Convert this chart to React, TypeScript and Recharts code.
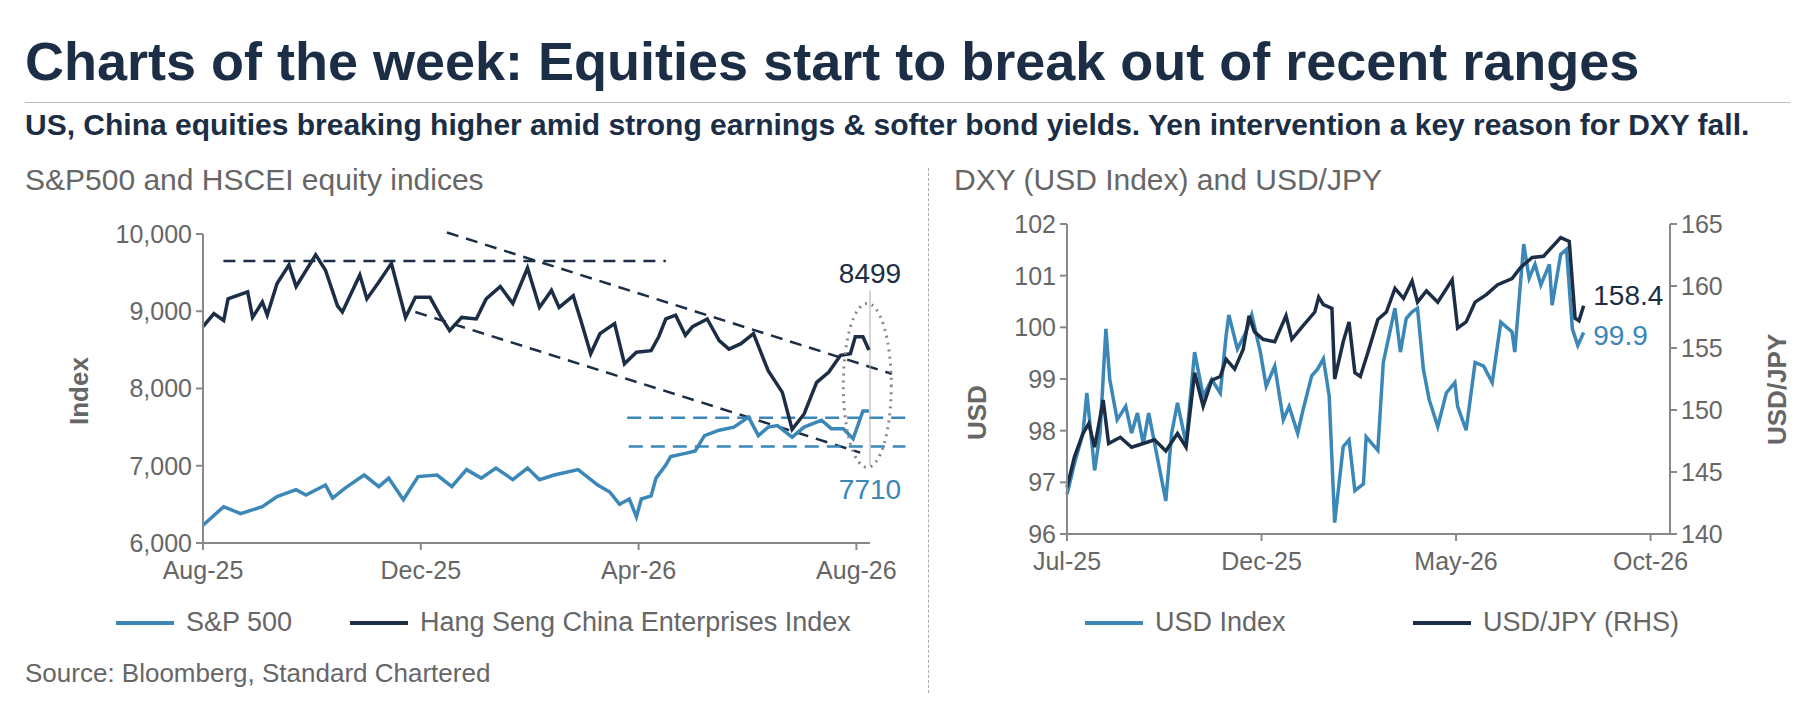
import React from 'react';
import { LineChart, Line, XAxis, YAxis, ReferenceLine, ReferenceDot } from 'recharts';

const NAVY = '#1c2e45';
const BLUE = '#3a87b8';
const GREY = '#666';
const FONT = '"Liberation Sans", Arial, sans-serif';

// left chart: months since Aug-25
const hsceiMonths = [0, 0.2, 0.38, 0.46, 0.82, 0.91, 1.09, 1.18, 1.36, 1.58, 1.71, 2.07, 2.25, 2.47, 2.56, 2.88, 3.01, 3.23, 3.46, 3.72, 3.9, 4.17, 4.35, 4.53, 4.75, 5.02, 5.2, 5.46, 5.69, 5.96, 6.18, 6.4, 6.54, 6.8, 6.94, 7.12, 7.29, 7.56, 7.74, 7.96, 8.23, 8.37, 8.5, 8.68, 8.86, 8.99, 9.26, 9.48, 9.66, 9.88, 10.11, 10.38, 10.64, 10.82, 11.04, 11.27, 11.49, 11.71, 11.89, 11.98, 12.12, 12.23];
const hsceiValues = [8800, 8970, 8880, 9160, 9250, 8920, 9120, 8950, 9360, 9600, 9320, 9730, 9530, 9070, 8990, 9470, 9160, 9380, 9620, 8920, 9180, 9180, 8950, 8750, 8920, 8900, 9160, 9320, 9100, 9560, 9050, 9270, 9050, 9200, 8880, 8450, 8710, 8840, 8320, 8470, 8490, 8670, 8900, 8950, 8690, 8800, 8900, 8620, 8510, 8580, 8710, 8230, 7950, 7470, 7670, 8080, 8210, 8430, 8450, 8670, 8670, 8499];
const spxMonths = [0, 0.38, 0.69, 1.09, 1.36, 1.71, 1.89, 2.25, 2.38, 2.61, 2.96, 3.23, 3.41, 3.68, 3.95, 4.3, 4.57, 4.84, 5.11, 5.38, 5.69, 5.96, 6.18, 6.45, 6.89, 7.25, 7.47, 7.65, 7.83, 7.96, 8.05, 8.23, 8.32, 8.5, 8.59, 8.86, 9.04, 9.21, 9.48, 9.75, 10.02, 10.2, 10.38, 10.55, 10.82, 11.04, 11.36, 11.54, 11.76, 11.94, 12.12, 12.23];
const spxValues = [6230, 6470, 6380, 6470, 6600, 6690, 6620, 6750, 6580, 6710, 6880, 6730, 6840, 6560, 6860, 6880, 6730, 6950, 6840, 6970, 6820, 6970, 6820, 6880, 6950, 6750, 6660, 6500, 6570, 6340, 6570, 6610, 6840, 7010, 7120, 7160, 7190, 7390, 7460, 7500, 7630, 7390, 7500, 7520, 7370, 7500, 7590, 7480, 7480, 7350, 7710, 7710];
const leftTicks = [0, 4, 8, 12];
const leftTickLabels = ['Aug-25', 'Dec-25', 'Apr-26', 'Aug-26'];
const indexTicks = [6000, 7000, 8000, 9000, 10000];

// right chart: months since Jul-25
const dxyMonths = [0, 0.19, 0.41, 0.51, 0.71, 0.85, 1.0, 1.1, 1.29, 1.51, 1.66, 1.81, 1.96, 2.1, 2.32, 2.54, 2.69, 2.84, 3.06, 3.28, 3.5, 3.72, 3.94, 4.09, 4.16, 4.38, 4.6, 4.75, 4.97, 5.12, 5.34, 5.56, 5.71, 5.93, 6.07, 6.29, 6.44, 6.59, 6.74, 6.88, 7.1, 7.25, 7.4, 7.62, 7.69, 7.99, 8.13, 8.43, 8.57, 8.72, 8.87, 9.01, 9.16, 9.31, 9.53, 9.75, 9.97, 10.04, 10.26, 10.49, 10.71, 10.93, 11.15, 11.44, 11.51, 11.74, 11.88, 12.03, 12.18, 12.4, 12.47, 12.69, 12.84, 12.99, 13.13, 13.28];
const dxyValues = [96.77, 97.36, 97.95, 98.73, 97.23, 97.95, 99.97, 98.99, 98.21, 98.47, 97.95, 98.34, 97.75, 98.34, 97.49, 96.64, 97.95, 98.54, 97.75, 99.52, 98.67, 98.99, 98.73, 99.84, 100.24, 99.58, 99.91, 100.24, 99.52, 98.86, 99.25, 98.21, 98.47, 97.95, 98.41, 99.06, 99.19, 99.39, 98.67, 96.22, 97.69, 97.82, 96.84, 96.97, 97.88, 97.62, 99.32, 100.37, 99.52, 100.17, 100.3, 100.37, 99.19, 98.6, 98.08, 98.73, 98.93, 98.47, 98.01, 99.32, 99.25, 98.93, 100.1, 99.91, 99.52, 101.61, 100.95, 101.22, 100.82, 101.22, 100.43, 101.41, 101.51, 99.97, 99.65, 99.9];
const jpyMonths = [0, 0.19, 0.41, 0.56, 0.71, 0.93, 1.07, 1.37, 1.66, 1.96, 2.25, 2.54, 2.84, 3.06, 3.28, 3.5, 3.72, 3.94, 4.09, 4.31, 4.53, 4.68, 4.82, 5.04, 5.34, 5.63, 5.78, 6.07, 6.37, 6.47, 6.59, 6.81, 6.88, 7.1, 7.25, 7.4, 7.54, 7.76, 7.99, 8.21, 8.43, 8.65, 8.87, 9.01, 9.24, 9.53, 9.9, 10.04, 10.26, 10.49, 10.78, 11.07, 11.44, 11.66, 11.96, 12.25, 12.69, 12.91, 13.06, 13.16, 13.28];
const jpyValues = [143.75, 146.2, 148.1, 148.9, 147.0, 150.8, 147.3, 147.8, 147.0, 147.3, 147.6, 146.7, 148.1, 147.0, 153.0, 150.3, 152.4, 152.7, 154.1, 153.3, 154.9, 157.6, 156.3, 155.7, 155.5, 157.6, 155.7, 156.8, 157.9, 159.1, 158.5, 158.2, 152.5, 155.5, 157.1, 153.0, 152.7, 154.9, 157.3, 157.9, 159.8, 159.0, 160.4, 158.7, 159.6, 158.7, 160.5, 156.6, 157.1, 158.7, 159.3, 160.1, 160.6, 161.5, 162.3, 162.4, 163.9, 163.6, 157.4, 157.2, 158.4];
const rightTicks = [0, 5, 10, 15];
const rightTickLabels = ['Jul-25', 'Dec-25', 'May-26', 'Oct-26'];
const usdTicks = [96, 97, 98, 99, 100, 101, 102];
const jpyTicks = [140, 145, 150, 155, 160, 165];

const zip = (xs: number[], ys: number[]) => xs.map((m, i) => ({ m, v: ys[i] }));
const hsceiData = zip(hsceiMonths, hsceiValues);
const spxData = zip(spxMonths, spxValues);
const dxyData = zip(dxyMonths, dxyValues);
const jpyData = zip(jpyMonths, jpyValues);

const tick = { fill: GREY, fontSize: 25, fontFamily: FONT };
const axisLine = { stroke: '#888', strokeWidth: 2 };

const Ellipse = (props: any) => (
  <ellipse cx={props.cx} cy={props.cy} rx={24} ry={82} fill="none" stroke="#888" strokeWidth={3} strokeDasharray="2 5" />
);

const abs = (left: number, top: number, extra: React.CSSProperties = {}): React.CSSProperties => ({
  position: 'absolute', left, top, fontFamily: FONT, whiteSpace: 'nowrap', ...extra,
});

const LegendItem = ({ x, color, text }: { x: number; color: string; text: string }) => (
  <div style={abs(x, 607, { display: 'flex', alignItems: 'center', fontSize: 27, color: GREY })}>
    <span style={{ display: 'inline-block', width: 58, height: 4, background: color, marginRight: 12 }} />
    {text}
  </div>
);

const valueLabel = (value: string, fill: string, position: any) =>
  ({ value, position, fill, fontSize: 28, fontFamily: FONT });

export default function App() {
  return (
    <div style={{ position: 'absolute', left: 0, top: 0, width: 1810, height: 704, background: '#fff' }}>
      <div style={abs(25, 30, { fontSize: 54, fontWeight: 'bold', color: NAVY })}>
        Charts of the week: Equities start to break out of recent ranges
      </div>
      <div style={{ position: 'absolute', left: 25, top: 102, width: 1765, height: 1, background: '#bbb' }} />
      <div style={abs(25, 108, { fontSize: 30, fontWeight: 'bold', color: NAVY })}>
        US, China equities breaking higher amid strong earnings &amp; softer bond yields. Yen intervention a key reason for DXY fall.
      </div>
      <div style={abs(25, 163, { fontSize: 30, color: GREY })}>S&amp;P500 and HSCEI equity indices</div>
      <div style={abs(954, 163, { fontSize: 30, color: GREY })}>DXY (USD Index) and USD/JPY</div>
      <div style={{ position: 'absolute', left: 928, top: 168, height: 525, borderLeft: '1px dashed #aaa' }} />
      <div style={abs(64, 425, { fontSize: 26, fontWeight: 'bold', color: GREY, transform: 'rotate(-90deg)', transformOrigin: 'left top' })}>Index</div>
      <div style={abs(962, 440, { fontSize: 26, fontWeight: 'bold', color: GREY, transform: 'rotate(-90deg)', transformOrigin: 'left top' })}>USD</div>
      <div style={abs(1762, 445, { fontSize: 26, fontWeight: 'bold', color: GREY, transform: 'rotate(-90deg)', transformOrigin: 'left top' })}>USD/JPY</div>

      <div style={{ position: 'absolute', left: 0, top: 200 }}>
        <LineChart width={930} height={385} margin={{ top: 34, right: 60, bottom: 2, left: 0 }}>
          <XAxis dataKey="m" type="number" domain={[0, 12.25]} ticks={leftTicks} allowDuplicatedCategory={false}
            tickFormatter={(t: number) => leftTickLabels[leftTicks.indexOf(t)]} tick={tick} axisLine={axisLine}
            tickLine={axisLine} tickSize={7} tickMargin={11} height={40} />
          <YAxis type="number" domain={[6000, 10000]} ticks={indexTicks} width={203} tick={tick} axisLine={axisLine}
            tickLine={axisLine} tickSize={7} tickMargin={4} tickFormatter={(t: number) => t.toLocaleString('en-US')} />
          <ReferenceLine segment={[{ x: 0.375, y: 9650 }, { x: 8.5, y: 9650 }]} stroke={NAVY} strokeWidth={2.5} strokeDasharray="12 8" ifOverflow="visible" />
          <ReferenceLine segment={[{ x: 4.48, y: 10020 }, { x: 12.65, y: 8190 }]} stroke={NAVY} strokeWidth={2.5} strokeDasharray="12 8" ifOverflow="visible" />
          <ReferenceLine segment={[{ x: 3.9, y: 8990 }, { x: 12.07, y: 7170 }]} stroke={NAVY} strokeWidth={2.5} strokeDasharray="12 8" ifOverflow="visible" />
          <ReferenceLine segment={[{ x: 7.79, y: 7620 }, { x: 12.9, y: 7620 }]} stroke={BLUE} strokeWidth={2.5} strokeDasharray="14 8" ifOverflow="visible" />
          <ReferenceLine segment={[{ x: 7.82, y: 7250 }, { x: 12.9, y: 7250 }]} stroke={BLUE} strokeWidth={2.5} strokeDasharray="14 8" ifOverflow="visible" />
          <ReferenceLine segment={[{ x: 12.25, y: 9270 }, { x: 12.25, y: 7000 }]} stroke="#aaa" strokeWidth={1} ifOverflow="visible" />
          <Line data={spxData} dataKey="v" stroke={BLUE} strokeWidth={3.5} dot={false} isAnimationActive={false} />
          <Line data={hsceiData} dataKey="v" stroke={NAVY} strokeWidth={3.5} dot={false} isAnimationActive={false} />
          <ReferenceDot x={12.2} y={8040} shape={Ellipse} ifOverflow="visible" />
          <ReferenceDot x={12.25} y={9300} r={0} ifOverflow="visible" label={valueLabel('8499', NAVY, 'top')} />
          <ReferenceDot x={12.25} y={6700} r={0} ifOverflow="visible" label={valueLabel('7710', BLUE, 'center')} />
        </LineChart>
      </div>

      <div style={{ position: 'absolute', left: 940, top: 190 }}>
        <LineChart width={850} height={386} margin={{ top: 34, right: 0, bottom: 2, left: 0 }}>
          <XAxis dataKey="m" type="number" domain={[0, 15.5]} ticks={rightTicks} allowDuplicatedCategory={false}
            tickFormatter={(t: number) => rightTickLabels[rightTicks.indexOf(t)]} tick={tick} axisLine={axisLine}
            tickLine={axisLine} tickSize={7} tickMargin={11} height={40} />
          <YAxis yAxisId="l" type="number" domain={[96, 102]} ticks={usdTicks} width={127} tick={tick}
            axisLine={axisLine} tickLine={axisLine} tickSize={7} tickMargin={4} />
          <YAxis yAxisId="r" orientation="right" type="number" domain={[140, 165]} ticks={jpyTicks} width={120}
            tick={tick} axisLine={axisLine} tickLine={axisLine} tickSize={7} tickMargin={4} />
          <Line yAxisId="l" data={dxyData} dataKey="v" stroke={BLUE} strokeWidth={3.5} dot={false} isAnimationActive={false} />
          <Line yAxisId="r" data={jpyData} dataKey="v" stroke={NAVY} strokeWidth={3.5} dot={false} isAnimationActive={false} />
          <ReferenceDot yAxisId="r" x={13.4} y={159.3} r={0} ifOverflow="visible" label={valueLabel('158.4', NAVY, 'right')} />
          <ReferenceDot yAxisId="l" x={13.4} y={99.85} r={0} ifOverflow="visible" label={valueLabel('99.9', BLUE, 'right')} />
        </LineChart>
      </div>

      <LegendItem x={116} color={BLUE} text="S&P 500" />
      <LegendItem x={350} color={NAVY} text="Hang Seng China Enterprises Index" />
      <LegendItem x={1085} color={BLUE} text="USD Index" />
      <LegendItem x={1413} color={NAVY} text="USD/JPY (RHS)" />
      <div style={abs(25, 658, { fontSize: 26, color: GREY })}>Source: Bloomberg, Standard Chartered</div>
    </div>
  );
}
